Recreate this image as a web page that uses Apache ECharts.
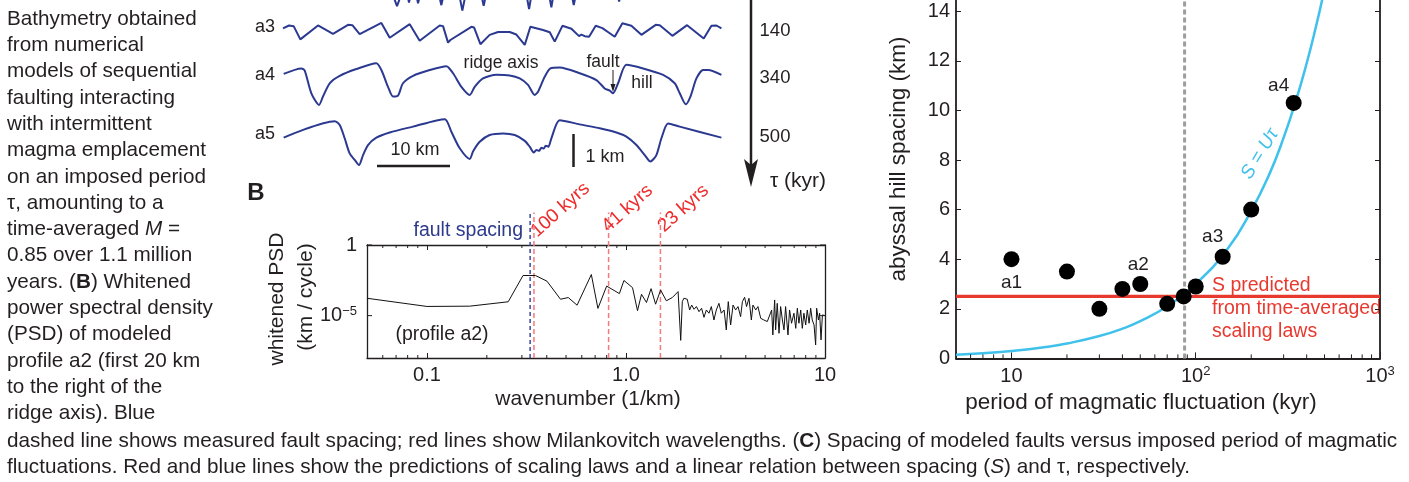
<!DOCTYPE html>
<html>
<head>
<meta charset="utf-8">
<script src="https://cdn.jsdelivr.net/npm/echarts@6.0.0/dist/echarts.min.js"></script>
<style>
  html, body { margin: 0; padding: 0; background: #fff; }
  #main { width: 1409px; height: 482px; }
</style>
</head>
<body>
<div id="main"></div>
<script>
// ---- panel A: modeled bathymetry profiles (distance km, relative depth km)
var a2X = [14.8, 15.6, 16.4, 16.9, 17.24, 17.6, 18.1, 18.48, 18.9, 21.2, 21.67, 22.1, 24.0, 24.54, 25.1, 27.0, 27.46, 27.9, 33.2, 33.67, 34.1, 36.3, 36.72, 37.1, 39.4, 39.78, 40.2, 45.7, 45.99, 46.3];
var a2Z = [0.3, -0.19, 0.3, 0.3, -0.08, 0.3, 0.3, -0.10, 0.3, 0.3, -0.16, 0.3, 0.3, -0.33, 0.3, 0.3, -0.18, 0.3, 0.3, -0.28, 0.3, 0.3, -0.23, 0.3, 0.3, -0.16, 0.3, 0.3, -0.05, 0.3];
var a3X = [0, 0.82, 1.46, 2.37, 4.79, 6.84, 8.90, 9.49, 10.49, 13.46, 14.60, 17.34, 18.70, 21.44, 21.90, 22.58, 22.90, 25.78, 26.14, 27.01, 28.28, 29.43, 31.02, 31.93, 33.08, 33.85, 35.58, 36.50, 37.18, 37.41, 38.23, 39.46, 40.51, 40.83, 41.29, 41.42, 41.88, 42.79, 43.70, 44.71, 45.39, 46.44, 47.67, 49.04, 51.00, 51.55, 53.28, 55.29, 57.57, 58.62, 59.31, 59.99];
var a3Z = [-0.26, -0.17, -0.19, -0.60, -0.17, -0.43, -0.15, -0.16, -0.44, -0.09, -0.55, -0.13, -0.64, -0.17, -0.19, -0.70, -0.62, -0.21, -0.23, -0.75, -0.46, -0.37, -0.37, -0.45, -0.77, -0.21, -0.31, -0.38, -0.67, -0.69, -0.18, -0.27, -0.50, -0.45, -0.50, -0.44, -0.52, -0.18, -0.25, -0.41, -0.52, -0.10, -0.18, -0.46, -0.15, -0.16, -0.49, -0.16, -0.57, -0.18, -0.17, -0.26];
var a4X = [0.09, 2.51, 2.97, 3.88, 4.93, 5.47, 6.39, 7.76, 10.04, 12.77, 13.46, 14.37, 15.05, 15.74, 16.42, 17.79, 20.07, 22.35, 23.27, 24.41, 25.55, 26.23, 27.37, 29.20, 31.02, 32.39, 33.53, 34.44, 34.90, 35.81, 36.59, 37.86, 40.60, 42.88, 44.02, 44.71, 45.16, 45.85, 46.99, 49.27, 52.01, 53.60, 54.29, 55.11, 55.75, 56.57, 57.48, 58.17, 59.99];
var a4Z = [-0.74, -0.57, -0.64, -1.34, -1.70, -1.44, -1.03, -0.80, -0.59, -0.41, -0.62, -1.14, -1.44, -1.41, -1.03, -0.80, -0.62, -0.50, -0.72, -1.14, -1.39, -1.14, -0.88, -0.77, -0.79, -0.88, -1.08, -1.39, -1.29, -0.83, -0.57, -0.54, -0.72, -0.93, -1.19, -1.26, -1.34, -1.03, -0.46, -0.57, -0.77, -1.03, -1.34, -1.68, -1.44, -0.88, -0.62, -0.62, -0.77];
var a5X = [0.09, 7.07, 7.76, 8.44, 9.12, 9.81, 10.40, 10.95, 11.63, 12.77, 14.60, 17.79, 22.13, 23.04, 24.18, 25.55, 26.00, 26.92, 28.28, 30.11, 31.71, 33.08, 33.76, 34.31, 34.67, 35.04, 35.36, 35.68, 35.95, 36.31, 36.72, 37.86, 40.60, 43.34, 45.62, 46.99, 48.36, 49.50, 50.27, 51.09, 51.78, 52.69, 54.29, 59.99];
var a5Z = [-1.01, -0.50, -0.62, -1.03, -1.50, -1.70, -1.86, -1.55, -1.24, -1.01, -0.85, -0.67, -0.44, -0.83, -1.34, -1.67, -1.44, -1.14, -0.93, -0.88, -0.93, -1.11, -1.29, -1.47, -1.39, -1.42, -1.32, -1.35, -1.26, -1.29, -1.03, -0.47, -0.60, -0.72, -0.85, -0.98, -1.24, -1.55, -1.75, -1.55, -1.03, -0.57, -0.67, -1.01];
var profileNames = ['a3', 'a4', 'a5'];
var profilePeriods = ['140', '340', '500'];

// ---- panel B: whitened PSD of profile a2 (wavenumber 1/km, log10 PSD)
var psdK = [0.05, 0.1, 0.164, 0.256, 0.304, 0.351, 0.401, 0.469, 0.513, 0.568, 0.670, 0.723, 0.800, 0.927, 0.977, 1.079, 1.143, 1.197, 1.268, 1.337, 1.409, 1.493, 1.596, 1.710, 1.828, 1.884,
  1.919, 1.954, 2.032, 2.089, 2.138, 2.198, 2.259, 2.328, 2.399, 2.466, 2.535, 2.612, 2.685, 2.767, 2.844, 2.931, 3.013, 3.112, 3.192, 3.266, 3.357, 3.451, 3.556, 3.656, 3.767, 3.846, 3.945, 4.036, 4.150, 4.266,
  4.345, 4.487, 4.603, 4.753, 4.932, 5.129, 5.224, 5.395, 5.470, 5.585, 5.649, 5.754, 5.875, 5.984, 6.109, 6.223, 6.339, 6.516, 6.637, 6.792, 6.982, 7.129, 7.261, 7.396, 7.551, 7.691, 7.834, 7.998, 8.147, 8.318,
  8.472, 8.630, 8.810, 8.974, 9.078, 9.268, 9.397, 9.550, 9.705, 9.840, 10.0];
var psdExp = [-3.77, -4.35, -4.33, -4.02, -2.16, -2.16, -2.56, -3.84, -3.72, -4.26, -2.09, -4.49, -2.91, -3.44, -2.51, -3.02, -4.65, -3.49, -4.07, -3.09, -4.19, -3.19, -3.95, -3.72, -3.30, -6.75,
  -4.01, -3.77, -3.84, -4.60, -4.25, -4.55, -4.36, -4.72, -4.48, -5.12, -4.60, -4.83, -4.36, -5.31, -4.60, -4.13, -4.83, -4.60, -6.01, -4.01, -5.66, -4.25, -4.60, -4.36, -5.07, -4.01, -3.70, -4.36, -3.77, -5.31,
  -4.25, -4.60, -4.36, -5.19, -5.31, -5.42, -5.54, -4.60, -6.37, -3.89, -6.01, -4.13, -6.25, -4.36, -5.31, -6.01, -4.36, -6.37, -4.60, -5.54, -4.83, -5.90, -4.48, -5.54, -4.60, -5.90, -4.83, -5.66, -4.60, -5.54,
  -4.48, -5.31, -5.66, -7.08, -4.48, -5.31, -4.83, -6.72, -4.95, -5.07, -5.0];
var faultK = 0.33;
var milankK = [0.345, 0.818, 1.49];
var milankNames = ['100 kyrs', '41 kyrs', '23 kyrs'];
var bMinorX = [0.06, 0.07, 0.08, 0.09, 0.2, 0.3, 0.4, 0.5, 0.6, 0.7, 0.8, 0.9, 2, 3, 4, 5, 6, 7, 8, 9];
var bTicksY = [1, 1e-5];

// ---- panel C: fault spacing vs period of magmatic fluctuation
var periodKyr = [10, 20, 30, 40, 50, 70, 86, 100, 140, 200, 340];
var spacingKm = [4.0, 3.5, 2.0, 2.8, 3.0, 2.2, 2.5, 2.9, 4.1, 6.0, 10.3];
var pointNames = ['a1', '', '', '', 'a2', '', '', '', 'a3', '', 'a4'];
var uTauX = [5, 7, 10, 15, 20, 30, 40, 50, 70, 100, 150, 200, 250, 300, 350, 400, 450, 490];
var uTauS = [0.15, 0.21, 0.3, 0.45, 0.6, 0.9, 1.2, 1.5, 2.1, 3.0, 4.45, 5.95, 7.4, 8.9, 10.4, 11.9, 13.4, 14.6];
var predictedS = 2.5;
var faultPeriod = 87;
var cMinorX = [6, 7, 8, 9, 20, 30, 40, 50, 60, 70, 80, 90, 200, 300, 400, 500, 600, 700, 800, 900];

var INK = '#231f20';
var FONT = 'Liberation Sans';
var BLUE = '#2b3990';
var RED = '#ee2b2b';
var CYAN = '#3fc1ec';

function zip(xs, ys) { return xs.map(function (x, i) { return [x, ys[i]]; }); }
function near(v, t) { return Math.abs(Math.log10(v) - Math.log10(t)) < 0.01; }

var supRich = {
  b: { fontSize: 20, fontFamily: FONT, color: INK, lineHeight: 22 },
  s: { fontSize: 13, fontFamily: FONT, color: INK, lineHeight: 22, verticalAlign: 'top' }
};

function txt(x, y, s, o) {
  o = o || {};
  return {
    type: 'text', x: x, y: y, rotation: o.rot || 0, silent: true,
    style: {
      text: s, fill: o.color || INK, fontSize: o.size || 19, fontFamily: FONT,
      fontWeight: o.weight || 'normal', fontStyle: o.italic ? 'italic' : 'normal',
      align: o.align || 'center', verticalAlign: o.va || 'middle',
      textAlign: o.align || 'center', textVerticalAlign: o.va || 'middle',
      rich: o.rich
    }
  };
}

function tickSeries(xi, yi, data, len, vertical) {
  return {
    type: 'custom', xAxisIndex: xi, yAxisIndex: yi, silent: true, clip: false, z: 6,
    data: data,
    renderItem: function (params, api) {
      var cs = params.coordSys;
      var p = api.coord([api.value(0), api.value(1)]);
      var st = { stroke: INK, lineWidth: 1 };
      var kids;
      if (vertical) {
        var yb = cs.y + cs.height;
        kids = [
          { type: 'line', shape: { x1: p[0], y1: yb, x2: p[0], y2: yb - len }, style: st },
          { type: 'line', shape: { x1: p[0], y1: cs.y, x2: p[0], y2: cs.y + len }, style: st }
        ];
      } else {
        var xr = cs.x + cs.width;
        kids = [
          { type: 'line', shape: { x1: cs.x, y1: p[1], x2: cs.x + len, y2: p[1] }, style: st },
          { type: 'line', shape: { x1: xr, y1: p[1], x2: xr - len, y2: p[1] }, style: st }
        ];
      }
      return { type: 'group', children: kids };
    }
  };
}

var chart = echarts.init(document.getElementById('main'), null, { renderer: 'canvas' });

var gridBase = { containLabel: false, outerBoundsMode: 'none', show: false };
var grids = [
  { left: 283, top: -32.3, width: 438.5, height: 64.6 },
  { left: 283, top: 20, width: 438.5, height: 32.3 },
  { left: 283, top: 50, width: 438.5, height: 64.6 },
  { left: 283, top: 105, width: 438.5, height: 64.6 },
  { left: 367, top: 245, width: 458, height: 113 },
  { left: 956, top: -38.4, width: 424, height: 396.8 }
].map(function (g) { return Object.assign({}, gridBase, g); });

var axisLineB = { show: true, lineStyle: { color: INK, width: 1.3 } };
var axisLineC = { show: true, lineStyle: { color: INK, width: 1.8 } };

var xAxes = [
  { gridIndex: 0, type: 'value', min: 0, max: 60, show: false },
  { gridIndex: 1, type: 'value', min: 0, max: 60, show: false },
  { gridIndex: 2, type: 'value', min: 0, max: 60, show: false },
  { gridIndex: 3, type: 'value', min: 0, max: 60, show: false },
  {
    gridIndex: 4, type: 'log', logBase: 10, min: 0.05, max: 10, position: 'bottom',
    axisLine: axisLineB, axisTick: { inside: true, length: 5, lineStyle: { color: INK } },
    splitLine: { show: false },
    axisLabel: {
      color: INK, fontSize: 20, fontFamily: FONT, margin: 7,
      formatter: function (v) { return near(v, 0.1) ? '0.1' : near(v, 1) ? '1.0' : near(v, 10) ? '10' : ''; }
    }
  },
  {
    gridIndex: 4, type: 'log', logBase: 10, min: 0.05, max: 10, position: 'top',
    axisLine: axisLineB, axisTick: { inside: true, length: 5, lineStyle: { color: INK } },
    axisLabel: { show: false }, splitLine: { show: false }
  },
  {
    gridIndex: 5, type: 'log', logBase: 10, min: 5, max: 1000, position: 'bottom',
    axisLine: axisLineC, axisTick: { inside: true, length: 6, lineStyle: { color: INK } },
    splitLine: { show: false },
    axisLabel: {
      color: INK, fontSize: 20, fontFamily: FONT, margin: 7, rich: supRich,
      formatter: function (v) {
        if (near(v, 10)) return '{b|10}';
        if (near(v, 100)) return '{b|10}{s|2}';
        if (near(v, 1000)) return '{b|10}{s|3}';
        return '';
      }
    }
  }
];

var yAxes = [
  { gridIndex: 0, type: 'value', min: -1, max: 1, show: false },
  { gridIndex: 1, type: 'value', min: -1, max: 0, show: false },
  { gridIndex: 2, type: 'value', min: -2, max: 0, show: false },
  { gridIndex: 3, type: 'value', min: -2, max: 0, show: false },
  {
    gridIndex: 4, type: 'log', logBase: 10, min: 1e-8, max: 1, position: 'left',
    axisLine: axisLineB, axisTick: { show: false }, splitLine: { show: false },
    axisLabel: {
      color: INK, fontSize: 20, fontFamily: FONT, margin: 10, rich: supRich,
      formatter: function (v) { return near(v, 1) ? '{b|1}' : near(v, 1e-5) ? '{b|10}{s|\u22125}' : ''; }
    }
  },
  {
    gridIndex: 4, type: 'log', logBase: 10, min: 1e-8, max: 1, position: 'right',
    axisLine: axisLineB, axisTick: { show: false }, axisLabel: { show: false }, splitLine: { show: false }
  },
  {
    gridIndex: 5, type: 'value', min: 0, max: 16, interval: 2, position: 'left',
    axisLine: axisLineC, axisTick: { inside: true, length: 5, lineStyle: { color: INK } },
    splitLine: { show: false },
    axisLabel: { color: INK, fontSize: 20, fontFamily: FONT, margin: 6 }
  },
  {
    gridIndex: 5, type: 'value', min: 0, max: 16, interval: 2, position: 'right',
    axisLine: axisLineC, axisTick: { inside: true, length: 5, lineStyle: { color: INK } },
    axisLabel: { show: false }, splitLine: { show: false }
  }
];

function profile(idx, xs, zs, smooth) {
  return {
    type: 'line', xAxisIndex: idx, yAxisIndex: idx, data: zip(xs, zs),
    symbol: 'none', smooth: smooth, silent: true, clip: idx !== 0 ? false : true,
    lineStyle: { color: BLUE, width: 2 }
  };
}

function vline(xi, yi, x, y0, y1, color, width, dash, z) {
  return {
    type: 'line', xAxisIndex: xi, yAxisIndex: yi, data: [[x, y0], [x, y1]],
    symbol: 'none', silent: true, clip: false, z: z || 3,
    lineStyle: { color: color, width: width, type: dash }
  };
}

var labelOffsets = { a1: [0, 24], a2: [-2, -19], a3: [-10, -20], a4: [-15, -17] };

var series = [
  profile(0, a2X, a2Z, false),
  profile(1, a3X, a3Z, false),
  profile(2, a4X, a4Z, 0.25),
  profile(3, a5X, a5Z, 0.25),
  // panel B
  vline(4, 4, faultK, 1e-8, 200, '#3b4a9e', 1.5, [4, 3], 3),
  {
    type: 'line', xAxisIndex: 4, yAxisIndex: 4, symbol: 'none', silent: true, z: 4,
    data: psdK.map(function (k, i) { return [k, Math.pow(10, psdExp[i])]; }),
    lineStyle: { color: '#111', width: 1 }
  },
  tickSeries(4, 4, bMinorX.map(function (v) { return [v, 1e-5]; }), 3, true),
  tickSeries(4, 4, bTicksY.map(function (v) { return [1, v]; }), 5, false),
  // panel C
  vline(6, 6, faultPeriod, 0, 16, '#9d9d9d', 3, [5, 3], 2),
  {
    type: 'line', xAxisIndex: 6, yAxisIndex: 6, symbol: 'none', silent: true, z: 3,
    data: [[5, predictedS], [1000, predictedS]],
    lineStyle: { color: '#e8392f', width: 3.2 }
  },
  {
    type: 'line', xAxisIndex: 6, yAxisIndex: 6, symbol: 'none', silent: true, smooth: true, clip: false, z: 3,
    data: zip(uTauX, uTauS), lineStyle: { color: CYAN, width: 2.5 }
  },
  {
    type: 'scatter', xAxisIndex: 6, yAxisIndex: 6, symbol: 'circle', symbolSize: 16, silent: true, z: 5,
    itemStyle: { color: '#000', opacity: 1 },
    data: periodKyr.map(function (p, i) {
      var n = pointNames[i];
      return {
        value: [p, spacingKm[i]], name: n,
        label: n ? { show: true, position: 'inside', offset: labelOffsets[n], formatter: '{b}', color: INK, opacity: 1, fontSize: 19, fontFamily: FONT } : { show: false }
      };
    })
  },
  tickSeries(6, 6, cMinorX.map(function (v) { return [v, 1]; }), 4, true)
];
milankK.forEach(function (k) { series.push(vline(4, 4, k, 1e-8, 200, '#f7797d', 1.5, [5, 3], 3)); });

// caption text
var leftCaption = [
  'Bathymetry obtained', 'from numerical', 'models of sequential', 'faulting interacting',
  'with intermittent', 'magma emplacement', 'on an imposed period', '\u03c4, amounting to a',
  'time-averaged {i|M} =', '0.85 over 1.1 million', 'years. ({b|B}) Whitened', 'power spectral density',
  '(PSD) of modeled', 'profile a2 (first 20 km', 'to the right of the', 'ridge axis). Blue'
];
var bottomCaption = [
  'dashed line shows measured fault spacing; red lines show Milankovitch wavelengths. ({b|C}) Spacing of modeled faults versus imposed period of magmatic',
  'fluctuations. Red and blue lines show the predictions of scaling laws and a linear relation between spacing ({i|S}) and \u03c4, respectively.'
];
var CAP = 20.7;
var capRich = {
  b: { fontWeight: 'bold', fontSize: CAP, fontFamily: FONT, color: INK },
  i: { fontStyle: 'italic', fontSize: CAP, fontFamily: FONT, color: INK }
};

var g = [];
leftCaption.forEach(function (s, i) { g.push(txt(7, 19 + i * 26.3, s, { align: 'left', size: CAP, rich: capRich })); });
bottomCaption.forEach(function (s, i) { g.push(txt(7, 441 + i * 26.5, s, { align: 'left', size: CAP, rich: capRich })); });

// panel A annotations
[27.5, 75, 134].forEach(function (y, i) {
  g.push(txt(265, y, profileNames[i], { size: 18 }));
  g.push(txt(775, y + 3, profilePeriods[i], { size: 18.5 }));
});
g.push(txt(798, 181, '\u03c4 (kyr)', { size: 21 }));
g.push(txt(501, 63, 'ridge axis', { size: 17.5 }));
g.push(txt(603, 62, 'fault', { size: 17.5 }));
g.push(txt(642, 83, 'hill', { size: 17.5 }));
g.push(txt(415, 150, '10 km', { size: 18 }));
g.push(txt(605, 157, '1 km', { size: 18 }));
g.push({ type: 'line', silent: true, shape: { x1: 377, y1: 166, x2: 450, y2: 166 }, style: { stroke: INK, lineWidth: 2.5 } });
g.push({ type: 'line', silent: true, shape: { x1: 573.5, y1: 134, x2: 573.5, y2: 167 }, style: { stroke: INK, lineWidth: 2.5 } });
g.push({ type: 'line', silent: true, shape: { x1: 751, y1: 0, x2: 751, y2: 170 }, style: { stroke: INK, lineWidth: 2.5 } });
g.push({ type: 'polygon', silent: true, shape: { points: [[744, 159], [751, 165], [758, 159], [751, 187]] }, style: { fill: INK } });
g.push({ type: 'line', silent: true, shape: { x1: 613, y1: 70, x2: 613, y2: 87 }, style: { stroke: INK, lineWidth: 1 } });
g.push({ type: 'polygon', silent: true, shape: { points: [[610.5, 84], [615.5, 84], [613, 92]] }, style: { fill: INK } });

// panel B annotations
g.push(txt(256, 193, 'B', { size: 24, weight: 'bold' }));
g.push(txt(523, 231, 'fault spacing', { size: 19.5, align: 'right', color: '#2e3a8c' }));
g.push(txt(540, 241, milankNames[0], { size: 19, align: 'left', va: 'bottom', color: RED, rot: 42 * Math.PI / 180 }));
g.push(txt(611, 236, milankNames[1], { size: 19, align: 'left', va: 'bottom', color: RED, rot: 42 * Math.PI / 180 }));
g.push(txt(667, 236, milankNames[2], { size: 19, align: 'left', va: 'bottom', color: RED, rot: 42 * Math.PI / 180 }));
g.push(txt(277, 299, 'whitened PSD', { size: 21, rot: Math.PI / 2 }));
g.push(txt(306, 297, '(km / cycle)', { size: 21, rot: Math.PI / 2 }));
g.push(txt(442, 335, '(profile a2)', { size: 19.5 }));
g.push(txt(588, 399, 'wavenumber (1/km)', { size: 21 }));

// panel C annotations
g.push(txt(1212, 286, 'S predicted', { size: 19.5, align: 'left', color: '#e8392f' }));
g.push(txt(1212, 309, 'from time-averaged', { size: 19.5, align: 'left', color: '#e8392f' }));
g.push(txt(1212, 332, 'scaling laws', { size: 19.5, align: 'left', color: '#e8392f' }));
g.push(txt(1260, 154, 'S = U\u03c4', { size: 19, italic: true, color: CYAN, rot: 59 * Math.PI / 180 }));
g.push(txt(899, 159, 'abyssal hill spacing (km)', { size: 22.5, rot: Math.PI / 2 }));
g.push(txt(1141, 403, 'period of magmatic fluctuation (kyr)', { size: 22.5 }));

chart.setOption({
  animation: false,
  backgroundColor: '#fff',
  grid: grids,
  xAxis: xAxes,
  yAxis: yAxes,
  series: series,
  graphic: { elements: g }
});
</script>
</body>
</html>
